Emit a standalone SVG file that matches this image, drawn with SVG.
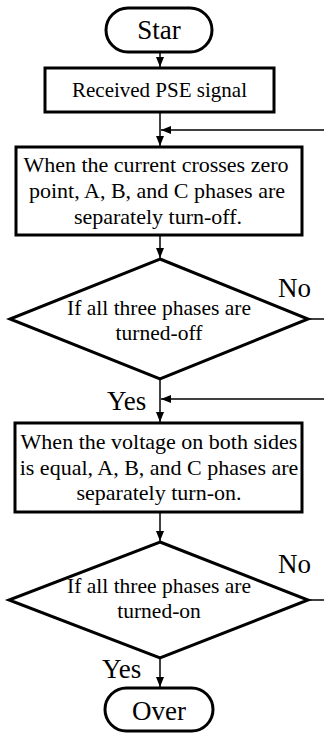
<svg xmlns="http://www.w3.org/2000/svg" width="324" height="733" viewBox="0 0 324 733" font-family="Liberation Serif, Times New Roman, serif">
<style>
.sh{fill:#fff;stroke:#000;stroke-width:3}
text{font-family:"Liberation Serif","Times New Roman",serif;fill:#000}
.t{font-size:22px;text-anchor:middle}
.d{font-size:21.5px;text-anchor:middle}
.b{font-size:27px}
.c{fill:none;stroke:#000;stroke-width:1.5}
</style>
<defs>
<marker id="ah" markerWidth="10" markerHeight="10" viewBox="0 0 10 10" refX="10" refY="5" orient="auto" markerUnits="userSpaceOnUse">
<path d="M0,1 L10,5 L0,9 Z" fill="#000"/>
</marker>
</defs>
<rect width="324" height="733" fill="#fff"/>
<g id="connectors">
<line class="c" x1="160" y1="52" x2="160" y2="67" marker-end="url(#ah)"/>
<line class="c" x1="160" y1="112" x2="160" y2="146" marker-end="url(#ah)"/>
<line class="c" x1="324" y1="130" x2="161" y2="130" marker-end="url(#ah)"/>
<line class="c" x1="160" y1="235" x2="160" y2="258" marker-end="url(#ah)"/>
<line class="c" x1="308" y1="319" x2="324" y2="319"/>
<line class="c" x1="160" y1="379" x2="160" y2="422" marker-end="url(#ah)"/>
<line class="c" x1="324" y1="399" x2="161" y2="399" marker-end="url(#ah)"/>
<line class="c" x1="160" y1="512" x2="160" y2="541" marker-end="url(#ah)"/>
<line class="c" x1="308" y1="600" x2="324" y2="600"/>
<line class="c" x1="160" y1="658" x2="160" y2="687" marker-end="url(#ah)"/>
<text class="b" x="278" y="297">No</text>
<text class="b" x="107" y="410">Yes</text>
<text class="b" x="278" y="573">No</text>
<text class="b" x="102" y="678">Yes</text>
</g>
<g id="start">
<rect class="sh" x="106" y="8" width="106" height="44" rx="22"/>
<text class="b" x="159" y="39" text-anchor="middle">Star</text>
</g>
<g id="received">
<rect class="sh" x="45" y="68" width="229" height="44"/>
<text class="t" x="159.5" y="97" style="font-size:21px">Received PSE signal</text>
</g>
<g id="turnoff">
<rect class="sh" x="16" y="147" width="286" height="88"/>
<text class="t" x="156" y="172">When the current crosses zero</text>
<text class="t" x="157" y="198">point, A, B, and C phases are</text>
<text class="t" x="158" y="224">separately turn-off.</text>
</g>
<g id="check-off">
<polygon class="sh" points="160,259 308,319 160,379 10,319"/>
<text class="d" x="159" y="315">If all three phases are</text>
<text class="d" x="159" y="340">turned-off</text>
</g>
<g id="turnon">
<rect class="sh" x="15" y="423" width="287" height="89"/>
<text class="t" x="159" y="449">When the voltage on both sides</text>
<text class="t" x="159" y="475">is equal, A, B, and C phases are</text>
<text class="t" x="159" y="500">separately turn-on.</text>
</g>
<g id="check-on">
<polygon class="sh" points="160,542 308,600 160,658 9,600"/>
<text class="d" x="159" y="593">If all three phases are</text>
<text class="d" x="159" y="618">turned-on</text>
</g>
<g id="over">
<rect class="sh" x="105" y="688" width="108" height="43" rx="21.5"/>
<text class="b" x="159" y="720" text-anchor="middle">Over</text>
</g>
</svg>
